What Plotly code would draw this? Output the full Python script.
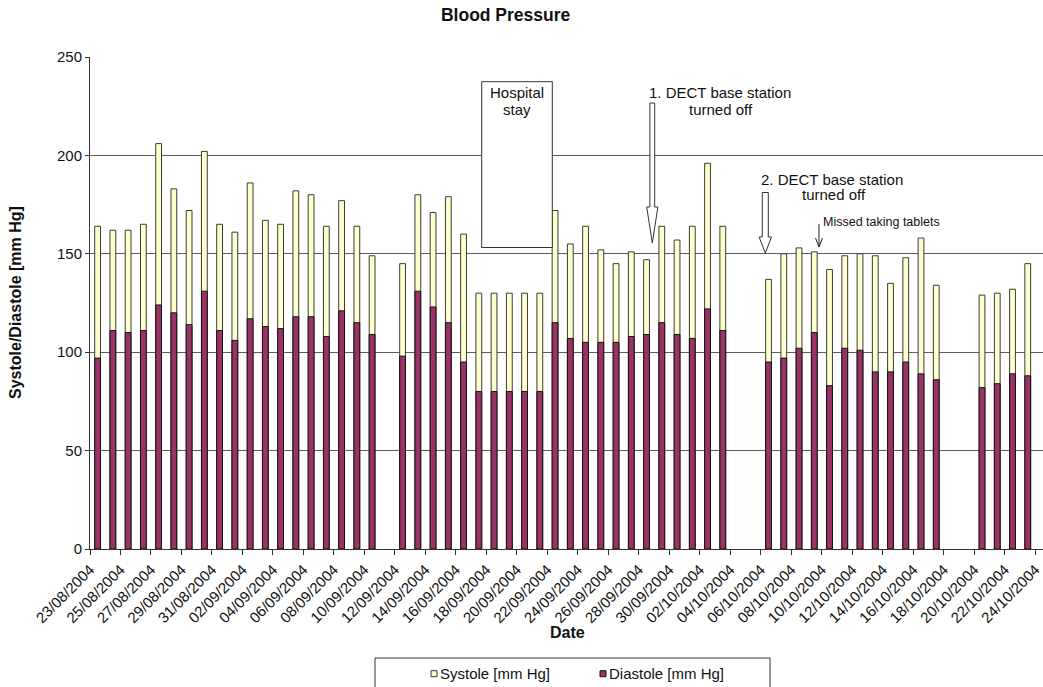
import plotly.graph_objects as go

# Daily readings (days without a measurement are simply absent)
dates = [
    "2004-08-23", "2004-08-24", "2004-08-25", "2004-08-26", "2004-08-27", "2004-08-28",
    "2004-08-29", "2004-08-30", "2004-08-31", "2004-09-01", "2004-09-02", "2004-09-03",
    "2004-09-04", "2004-09-05", "2004-09-06", "2004-09-07", "2004-09-08", "2004-09-09",
    "2004-09-10",
    "2004-09-12", "2004-09-13", "2004-09-14", "2004-09-15", "2004-09-16", "2004-09-17",
    "2004-09-18", "2004-09-19", "2004-09-20", "2004-09-21", "2004-09-22", "2004-09-23",
    "2004-09-24", "2004-09-25", "2004-09-26", "2004-09-27", "2004-09-28", "2004-09-29",
    "2004-09-30", "2004-10-01", "2004-10-02", "2004-10-03",
    "2004-10-06", "2004-10-07", "2004-10-08", "2004-10-09", "2004-10-10", "2004-10-11",
    "2004-10-12", "2004-10-13", "2004-10-14", "2004-10-15", "2004-10-16", "2004-10-17",
    "2004-10-20", "2004-10-21", "2004-10-22", "2004-10-23",
]

systole = [
    164, 162, 162, 165, 206, 183, 172, 202, 165, 161, 186, 167, 165, 182, 180, 164, 177, 164,
    149,
    145, 180, 171, 179, 160, 130, 130, 130, 130, 130, 172, 155, 164, 152, 145, 151, 147, 164,
    157, 164, 196, 164,
    137, 150, 153, 151, 142, 149, 150, 149, 135, 148, 158, 134,
    129, 130, 132, 145,
]

diastole = [
    97, 111, 110, 111, 124, 120, 114, 131, 111, 106, 117, 113, 112, 118, 118, 108, 121, 115,
    109,
    98, 131, 123, 115, 95, 80, 80, 80, 80, 80, 115, 107, 105, 105, 105, 108, 109, 115,
    109, 107, 122, 111,
    95, 97, 102, 110, 83, 102, 101, 90, 90, 95, 89, 86,
    82, 84, 89, 88,
]

series_names = ["Systole [mm Hg]", "Diastole [mm Hg]"]
y_ticks = [0, 50, 100, 150, 200, 250]

SYS_FILL = "#FFFFCC"
DIA_FILL = "#993366"
FONT = "Liberation Sans, Arial, sans-serif"
TEXT = "#111111"

W, H = 1043, 687
L, R, T, B = 90, 0, 57, 138
PW, PH = W - L - R, H - T - B
DAY_MS = 86400000


def fx(px):
    """Pixel column -> paper x."""
    return (px - L) / PW


def fy(py):
    """Pixel row -> paper y."""
    return (H - B - py) / PH


fig = go.Figure()

fig.add_trace(go.Bar(
    x=dates, y=systole, name=series_names[0],
    xperiod=DAY_MS, xperiodalignment="middle",
    width=0.38 * DAY_MS,
    marker=dict(color=SYS_FILL, line=dict(color="#3a3a3a", width=1)),
    showlegend=False,
))
fig.add_trace(go.Bar(
    x=dates, y=diastole, name=series_names[1],
    xperiod=DAY_MS, xperiodalignment="middle",
    width=0.38 * DAY_MS,
    marker=dict(color=DIA_FILL, line=dict(color="#111111", width=1)),
    showlegend=False,
))

shapes = []
annotations = []

# "Hospital stay" box
shapes.append(dict(type="rect", xref="paper", yref="paper",
                   x0=fx(481.7), x1=fx(552.3), y0=fy(247.5), y1=fy(81.7),
                   fillcolor="white", line=dict(color="#333333", width=1), layer="above"))
annotations += [
    dict(text="Hospital", x=fx(517), y=fy(92.3)),
    dict(text="stay", x=fx(517), y=fy(109.3)),
]


def block_arrow(cx, top, head_start, tip, shaft_hw, head_hw):
    pts = [
        (cx - shaft_hw, top), (cx + shaft_hw, top), (cx + shaft_hw, head_start),
        (cx + head_hw, head_start), (cx, tip), (cx - head_hw, head_start),
        (cx - shaft_hw, head_start),
    ]
    path = "M " + " L ".join(f"{fx(x):.5f},{fy(y):.5f}" for x, y in pts) + " Z"
    return dict(type="path", xref="paper", yref="paper", path=path,
                fillcolor="white", line=dict(color="#333333", width=1), layer="above")


# Event markers
shapes.append(block_arrow(652.3, 103, 207, 243, 2.4, 5.6))
shapes.append(block_arrow(765.3, 192.5, 237, 253, 3.0, 6.2))
annotations += [
    dict(text="1. DECT base station", x=fx(720.3), y=fy(92.7)),
    dict(text="turned off", x=fx(720.7), y=fy(109.3)),
    dict(text="2. DECT base station", x=fx(832.3), y=fy(179)),
    dict(text="turned off", x=fx(834), y=fy(194.6)),
]

# Thin arrow for the missed tablets note
ax_ = 819
shapes.append(dict(
    type="path", xref="paper", yref="paper",
    path=(f"M {fx(ax_):.5f},{fy(224):.5f} L {fx(ax_):.5f},{fy(247):.5f} "
          f"M {fx(ax_ - 3.5):.5f},{fy(238):.5f} L {fx(ax_):.5f},{fy(247):.5f} "
          f"L {fx(ax_ + 3.5):.5f},{fy(238):.5f}"),
    line=dict(color="#222222", width=1), layer="above"))
annotations.append(dict(text="Missed taking tablets", x=fx(821), y=fy(222.3),
                        xanchor="left", font=dict(size=12.5, family=FONT, color=TEXT)))

# Legend panel
shapes.append(dict(type="rect", xref="paper", yref="paper",
                   x0=fx(375), x1=fx(770), y0=fy(700), y1=fy(658),
                   fillcolor="white", line=dict(color="#333333", width=1)))
for sq_x, fill, outline in [(431, SYS_FILL, "#333333"), (600, DIA_FILL, "#111111")]:
    shapes.append(dict(type="rect", xref="paper", yref="paper",
                       x0=fx(sq_x), x1=fx(sq_x + 6), y0=fy(676.7), y1=fy(670.7),
                       fillcolor=fill, line=dict(color=outline, width=1)))
annotations += [
    dict(text=series_names[0], x=fx(438), y=fy(673.7), xanchor="left"),
    dict(text=series_names[1], x=fx(607), y=fy(673.7), xanchor="left"),
]

# Axis titles
annotations += [
    dict(text="<b>Date</b>", x=fx(567), y=fy(632), font=dict(size=16, family=FONT, color=TEXT)),
    dict(text="<b>Systole/Diastole [mm Hg]</b>", x=fx(15), y=fy(303), textangle=-90,
         font=dict(size=16, family=FONT, color=TEXT)),
]

for a in annotations:
    a.setdefault("xref", "paper")
    a.setdefault("yref", "paper")
    a.setdefault("xanchor", "center")
    a.setdefault("yanchor", "middle")
    a.setdefault("showarrow", False)
    a.setdefault("font", dict(size=15, family=FONT, color=TEXT))

fig.update_layout(
    width=W, height=H,
    margin=dict(l=L, r=R, t=T, b=B, pad=0),
    paper_bgcolor="white", plot_bgcolor="white",
    barmode="overlay",
    showlegend=False,
    font=dict(family=FONT, size=15, color=TEXT),
    title=dict(text="<b>Blood Pressure</b>", x=fx(552), xanchor="center",
               y=1 - 15 / H, yanchor="middle", font=dict(size=17.5, family=FONT, color=TEXT)),
    shapes=shapes,
    annotations=annotations,
)

fig.update_xaxes(
    type="date",
    range=["2004-08-23", "2004-10-24 12:00"],
    tick0="2004-08-23", dtick=2 * DAY_MS,
    tickformat="%d/%m/%Y", tickangle=-45,
    ticks="outside", ticklen=5, tickcolor="#333333",
    showline=True, linecolor="#333333", linewidth=1,
    showgrid=False, zeroline=False,
    tickfont=dict(size=15, family=FONT, color=TEXT),
)

fig.update_yaxes(
    range=[0, 250], tickvals=y_ticks,
    ticks="outside", ticklen=4, tickcolor="#333333",
    showline=True, linecolor="#333333", linewidth=1,
    showgrid=True, gridcolor="#5c5c5c", gridwidth=1,
    zeroline=False,
    tickfont=dict(size=15, family=FONT, color=TEXT),
)

fig.write_html("out.html")
